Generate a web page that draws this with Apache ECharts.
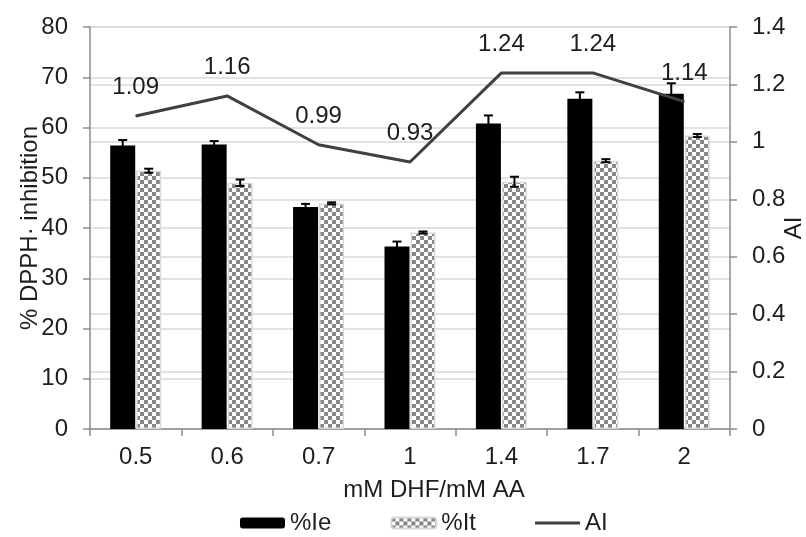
<!DOCTYPE html>
<html>
<head>
<meta charset="utf-8">
<script src="https://cdn.jsdelivr.net/npm/echarts@6/dist/echarts.min.js"></script>
<style>html,body{margin:0;padding:0;background:#fff}#c{width:806px;height:537px}</style>
</head>
<body>
<div id="c"></div>
<script>
const categories = ['0.5', '0.6', '0.7', '1', '1.4', '1.7', '2'];
const ieValues = [56.4, 56.6, 44.2, 36.3, 60.8, 65.7, 66.7];
const ieErrors = [1.1, 0.7, 0.6, 1.0, 1.6, 1.3, 2.1];
const itValues = [51.4, 49.0, 44.9, 39.1, 49.2, 53.4, 58.4];
const itErrors = [0.4, 0.65, 0.2, 0.2, 1.0, 0.3, 0.3];
const aiValues = [1.09, 1.16, 0.99, 0.93, 1.24, 1.24, 1.14];

const FONT = 'Liberation Sans, Arial, sans-serif';
const TXT = '#1e1e1e';
const FS = 24;

function checker() {
  const c = document.createElement('canvas');
  c.width = 8; c.height = 8;
  const g = c.getContext('2d');
  g.fillStyle = '#ffffff'; g.fillRect(0, 0, 8, 8);
  g.fillStyle = '#878787';
  g.fillRect(0, 0, 4, 4); g.fillRect(4, 4, 4, 4);
  return c;
}
const pattern = { image: checker(), repeat: 'repeat' };

const BAR_W = 25, BAR_GAP = 1;
function errRender(offset) {
  return function (params, api) {
    const idx = api.value(0), v = api.value(1), e = api.value(2);
    const top = api.coord([idx, v + e]);
    const bot = api.coord([idx, v - e]);
    const x = top[0] + offset;
    const cap = 4.5;
    const st = { stroke: '#000', lineWidth: 2 };
    return { type: 'group', children: [
      { type: 'line', shape: { x1: x, y1: top[1], x2: x, y2: bot[1] }, style: st },
      { type: 'line', shape: { x1: x - cap, y1: top[1], x2: x + cap, y2: top[1] }, style: st },
      { type: 'line', shape: { x1: x - cap, y1: bot[1], x2: x + cap, y2: bot[1] }, style: st }
    ]};
  };
}

const chart = echarts.init(document.getElementById('c'), null, { renderer: 'canvas' });
chart.setOption({
  animation: false,
  backgroundColor: '#fff',
  textStyle: { fontFamily: FONT, color: TXT },
  grid: { left: 90, right: 76, top: 27, bottom: 108, containLabel: false, outerBoundsMode: 'none' },
  legend: {
    left: 235, top: 506,
    itemWidth: 45, itemHeight: 11, itemGap: 59,
    textStyle: { fontFamily: FONT, fontSize: FS, color: TXT },
    data: ['%Ie', '%It', { name: 'AI', icon: 'path://M0 0 H45 V3 H0 Z' }]
  },
  xAxis: {
    type: 'category',
    data: categories,
    name: 'mM DHF/mM AA',
    nameLocation: 'middle',
    nameGap: 49,
    nameMoveOverlap: false,
    nameTextStyle: { fontFamily: FONT, fontSize: FS, color: TXT, padding: [0, 0, 0, 48] },
    axisLine: { lineStyle: { color: '#8c8c8c', width: 1.5 } },
    axisTick: { show: true, length: 7, lineStyle: { color: '#8c8c8c', width: 1.5 } },
    axisLabel: { fontFamily: FONT, fontSize: FS, color: TXT, margin: 16 },
    splitLine: { show: false }
  },
  yAxis: [
    {
      type: 'value', min: 0, max: 80, interval: 10,
      name: '% DPPH\u00B7 inhibition',
      nameLocation: 'middle', nameGap: 48, nameRotate: 90,
      nameMoveOverlap: false,
      nameTextStyle: { fontFamily: FONT, fontSize: FS, color: TXT },
      axisLine: { show: true, lineStyle: { color: '#8c8c8c', width: 1.5 } },
      axisTick: { show: true, length: 7, lineStyle: { color: '#8c8c8c', width: 1.5 } },
      axisLabel: { fontFamily: FONT, fontSize: FS, color: TXT, margin: 22 },
      splitLine: { show: true, lineStyle: { color: '#d9d9d9', width: 1.5 } }
    },
    {
      type: 'value', min: 0, max: 1.4, interval: 0.2,
      name: 'AI',
      nameLocation: 'middle', nameGap: 52, nameRotate: 90,
      nameMoveOverlap: false,
      nameTextStyle: { fontFamily: FONT, fontSize: FS, color: TXT },
      axisLine: { show: true, lineStyle: { color: '#8c8c8c', width: 1.5 } },
      axisTick: { show: true, length: 7, lineStyle: { color: '#8c8c8c', width: 1.5 } },
      axisLabel: { fontFamily: FONT, fontSize: FS, color: TXT, margin: 22 },
      splitLine: { show: true, lineStyle: { color: '#d9d9d9', width: 1.5 } }
    }
  ],
  series: [
    {
      name: '%Ie', type: 'bar', yAxisIndex: 0, data: ieValues,
      barWidth: BAR_W, barGap: (BAR_GAP / BAR_W * 100) + '%',
      itemStyle: { color: '#000' }, z: 2
    },
    {
      name: '%It', type: 'bar', yAxisIndex: 0, data: itValues,
      barWidth: BAR_W,
      itemStyle: { color: pattern, borderColor: '#d9d9d9', borderWidth: 1.5 }, z: 2
    },
    {
      name: 'IeErr', type: 'custom', yAxisIndex: 0,
      data: ieValues.map((v, i) => [i, v, ieErrors[i]]),
      renderItem: errRender(-(BAR_W + BAR_GAP) / 2), z: 3, silent: true
    },
    {
      name: 'ItErr', type: 'custom', yAxisIndex: 0,
      data: itValues.map((v, i) => [i, v, itErrors[i]]),
      renderItem: errRender((BAR_W + BAR_GAP) / 2), z: 3, silent: true
    },
    {
      name: 'AI', type: 'line', yAxisIndex: 1, data: aiValues,
      symbol: 'none', showSymbol: false,
      lineStyle: { color: '#404040', width: 3 },
      itemStyle: { color: '#404040' },
      z: 4
    },
    {
      name: 'AILabels', type: 'scatter', yAxisIndex: 1, data: aiValues,
      symbolSize: 1, itemStyle: { color: '#404040', opacity: 1 }, silent: true,
      label: {
        show: true, position: 'top', distance: 16,
        fontFamily: FONT, fontSize: FS, color: TXT, opacity: 1,
        formatter: p => p.value.toFixed(2)
      },
      labelLayout: { hideOverlap: false },
      z: 5
    }
  ]
});
</script>
</body>
</html>
